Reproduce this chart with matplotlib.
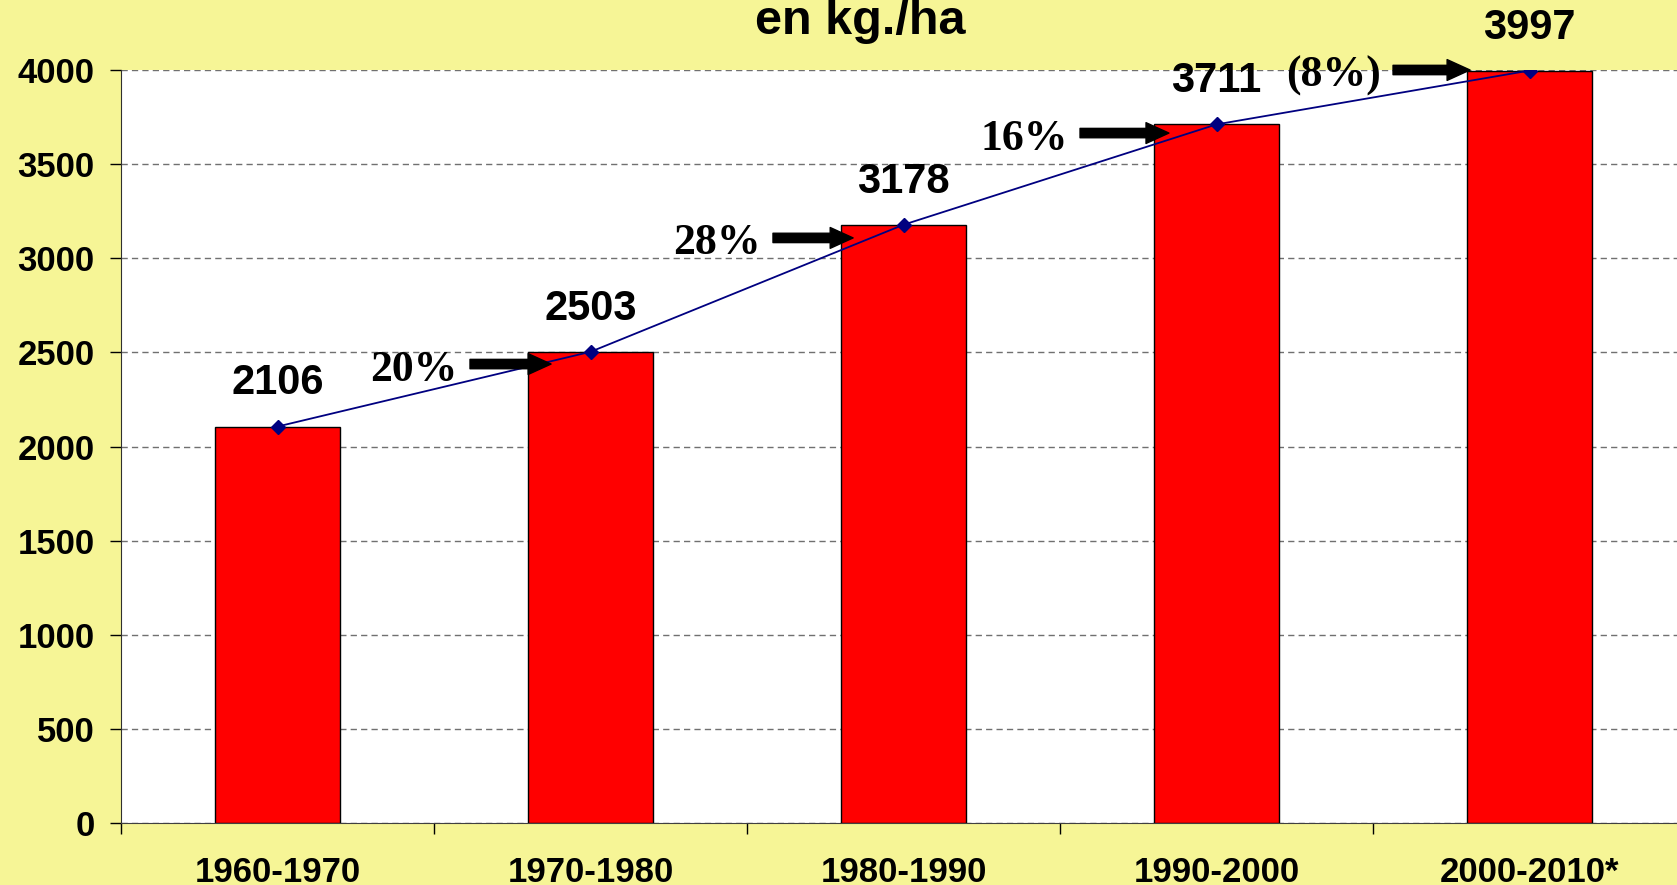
import matplotlib
matplotlib.use('Agg')
import matplotlib.pyplot as plt

# data
periods = ['1960-1970', '1970-1980', '1980-1990', '1990-2000', '2000-2010*']
yields = [2106, 2503, 3178, 3711, 3997]
growth_labels = ['20%', '28%', '16%', '(8%)']
arrow_tips = [(0.874, 2438), (1.839, 3108), (2.848, 3665), (3.81, 4000)]  # where each arrow points
arrow_tails_x = [0.615, 1.583, 2.564, 3.564]

bg = '#F6F596'
sans = ['Liberation Sans', 'DejaVu Sans']
serif = ['Liberation Serif', 'DejaVu Serif']

fig = plt.figure(figsize=(16.77, 8.85), dpi=100, facecolor=bg)
ax = fig.add_axes([121 / 1677, 62 / 885, 1565 / 1677, 753 / 885])
ax.set_facecolor('white')

x = list(range(len(periods)))
ax.bar(x, yields, width=0.4, color='#FF0000', edgecolor='black', linewidth=1, zorder=2)
ax.plot(x, yields, color='#000080', lw=1.3, marker='D', ms=7.5, zorder=3)

# value labels over the bars
for xi, v in zip(x, yields):
    ax.annotate(str(v), xy=(xi, v), xytext=(0, 31), textcoords='offset points',
                ha='center', va='center', fontsize=30, fontweight='bold',
                family=sans, annotation_clip=False)

# growth arrows + percentages
for lab, (tx, ty), sx in zip(growth_labels, arrow_tips, arrow_tails_x):
    ax.annotate('', xy=(tx, ty), xytext=(sx, ty), annotation_clip=False,
                arrowprops=dict(arrowstyle='simple,head_length=1.1,head_width=1.0,tail_width=0.45',
                                mutation_scale=15, color='black', shrinkA=0, shrinkB=0),
                zorder=4)
    ax.annotate(lab, xy=(sx, ty), xytext=(-9, -4), textcoords='offset points',
                ha='right', va='center', fontsize=31.5, fontweight='bold',
                family=serif, annotation_clip=False)

ax.set_xlim(-0.5, 4.5)
ax.set_ylim(0, 4000)
ax.set_yticks(range(0, 4001, 500))
ax.set_xticks(x)
ax.set_xticklabels(periods)
ax.set_xticks([i - 0.5 for i in range(len(periods) + 1)], minor=True)

ax.tick_params(axis='y', length=8, width=1, pad=11, labelsize=25, direction='out')
ax.tick_params(axis='x', which='major', length=0, pad=24, labelsize=25)
ax.tick_params(axis='x', which='minor', length=8, width=1, direction='out')
for t in ax.get_xticklabels() + ax.get_yticklabels():
    t.set_fontweight('bold')
    t.set_family(sans)

ax.grid(axis='y', linestyle=(0, (4.5, 3)), color='#707070', lw=1)
ax.set_axisbelow(True)
ax.spines['top'].set_visible(False)
ax.spines['right'].set_visible(False)
ax.spines['left'].set_color('#303030')
ax.spines['bottom'].set_color('#404040')

fig.text(860 / 1677, 1 - 21 / 885, 'en kg./ha', ha='center', va='center',
         fontsize=35, fontweight='bold', family=sans)

fig.savefig('out.png', dpi=100, facecolor=bg)
